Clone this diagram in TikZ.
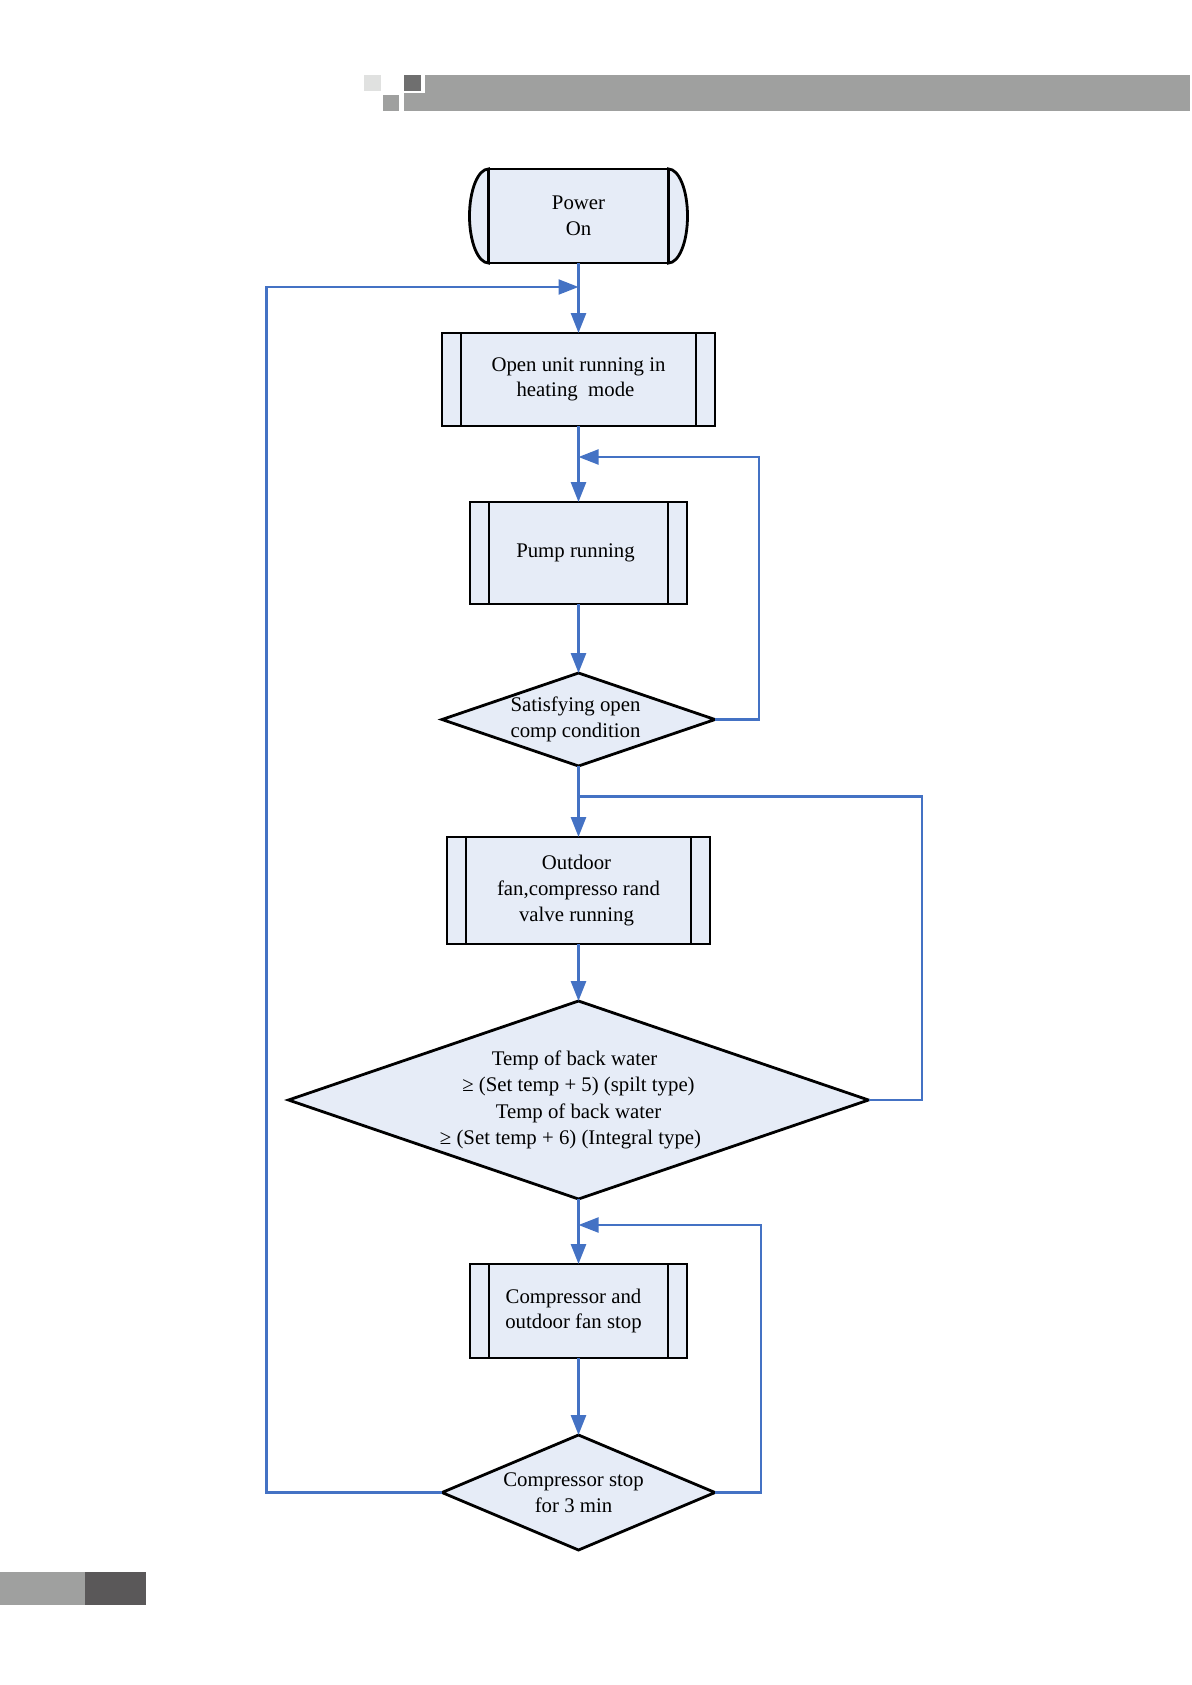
\documentclass[tikz,border=0pt]{standalone}
\usepackage{fontspec}
\setmainfont{Liberation Serif}
\usetikzlibrary{shapes.geometric,arrows.meta,calc}
\definecolor{flowblue}{RGB}{68,114,196}
\definecolor{boxfill}{RGB}{230,236,247}
\definecolor{hdrgray}{RGB}{159,160,159}
\definecolor{hdrlight}{RGB}{224,225,224}
\definecolor{hdrdark}{RGB}{111,111,111}
\definecolor{ftrdark}{RGB}{90,88,89}
\begin{document}
\begin{tikzpicture}[x=0.5pt,y=-0.5pt,
  txt/.style={font=\fontsize{10.4}{12.8}\selectfont, align=center, text=black},
  procbox/.style={txt, draw=black, line width=1.4pt, fill=boxfill, rectangle, inner sep=0pt, outer sep=0pt},
  decbox/.style={txt, draw=black, line width=1.4pt, fill=boxfill, diamond, inner sep=0pt, outer sep=0pt},
  mainflow/.style={draw=flowblue, line width=1.4pt, -{Triangle[length=10pt,width=7.5pt]}},
  loopflow/.style={draw=flowblue, line width=1.1pt},
  looparrow/.style={loopflow, -{Triangle[length=10pt,width=7.5pt]}},
  inner/.style={draw=black, line width=1.4pt}
]
\useasboundingbox (0,0) rectangle (1191,1685);
% header
\fill[hdrgray] (404,75) rectangle (1190,111);
\fill[white] (404,75) rectangle (425,93);
\fill[hdrdark] (404,75) rectangle (421,91);
\fill[hdrlight] (364,75) rectangle (381,91);
\fill[hdrgray] (383,95) rectangle (399,111);
% footer
\fill[hdrgray] (0,1572) rectangle (85,1605);
\fill[ftrdark] (85,1572) rectangle (146,1605);

% nodes
\node[procbox, minimum width=90pt, minimum height=47pt] (pw) at (578.5,216) {Power\\On};
\filldraw[inner, fill=boxfill] (pw.north west) arc[start angle=90,end angle=270,x radius=9.5pt,y radius=23.5pt] -- cycle;
\filldraw[inner, fill=boxfill] (pw.south east) arc[start angle=-90,end angle=90,x radius=9.5pt,y radius=23.5pt] -- cycle;

\node[procbox, minimum width=136.5pt, minimum height=46.5pt] (open) at (578.5,379.5) {Open unit running in\\heating\ \ mode\hspace*{3pt}};
\node[procbox, minimum width=108.5pt, minimum height=51pt] (pump) at (578.5,553) {Pump running\hspace*{3pt}};
\node[decbox, minimum width=136.5pt, minimum height=46.5pt, shape aspect=2.94] (d1) at (578.5,719.5) {Satisfying open\hspace*{3pt}\\comp condition\hspace*{3pt}};
\node[procbox, minimum width=131.5pt, minimum height=53.5pt] (out) at (578.5,890.5) {Outdoor\hspace*{2pt}\\fan,compresso rand\hspace*{2pt}\\valve running\hspace*{2pt}};
\node[decbox, minimum width=290pt, minimum height=99pt, shape aspect=2.93, font=\fontsize{10.4}{13.2}\selectfont] (big) at (578.5,1100) {Temp of back water\hspace*{4pt}\\≥ (Set temp + 5) (spilt type)\hspace*{6pt}\\Temp of back water\hspace*{4pt}\\≥ (Set temp + 6) (Integral type)\hspace*{8pt}};
\node[procbox, minimum width=108.5pt, minimum height=47pt] (comp) at (578.5,1311) {Compressor and\hspace*{5pt}\\outdoor fan stop\hspace*{5pt}};
\node[decbox, minimum width=136.5pt, minimum height=57.5pt, shape aspect=2.37] (d3) at (578.5,1492.5) {Compressor stop\hspace*{5pt}\\for 3 min\hspace*{5pt}};

\foreach \n in {open,pump,out,comp}{
  \draw[inner] ([xshift=9.5pt]\n.north west) -- ([xshift=9.5pt]\n.south west);
  \draw[inner] ([xshift=-9.5pt]\n.north east) -- ([xshift=-9.5pt]\n.south east);
}

% main flow
\draw[mainflow] (pw.south) -- (open.north);
\draw[mainflow] (open.south) -- (pump.north);
\draw[mainflow] (pump.south) -- (d1.north);
\draw[mainflow] (d1.south) -- (out.north);
\draw[mainflow] (out.south) -- (big.north);
\draw[mainflow] (big.south) -- (comp.north);
\draw[mainflow] (comp.south) -- (d3.north);

% loops
\coordinate (j1) at (578.5,287);
\coordinate (c1) at (266.5,287);
\coordinate (j2) at (578.5,457);
\coordinate (c2) at (759,457);
\coordinate (j3) at (578.5,796.5);
\coordinate (c3) at (922,796.5);
\coordinate (j4) at (578.5,1225);
\coordinate (c4) at (761,1225);
\draw[looparrow] (d3.west) -| (c1) -- (j1);
\draw[looparrow] (d1.east) -| (c2) -- (j2);
\draw[loopflow] (big.east) -| (c3) -- (j3);
\draw[looparrow] (d3.east) -| (c4) -- (j4);
\end{tikzpicture}
\end{document}
